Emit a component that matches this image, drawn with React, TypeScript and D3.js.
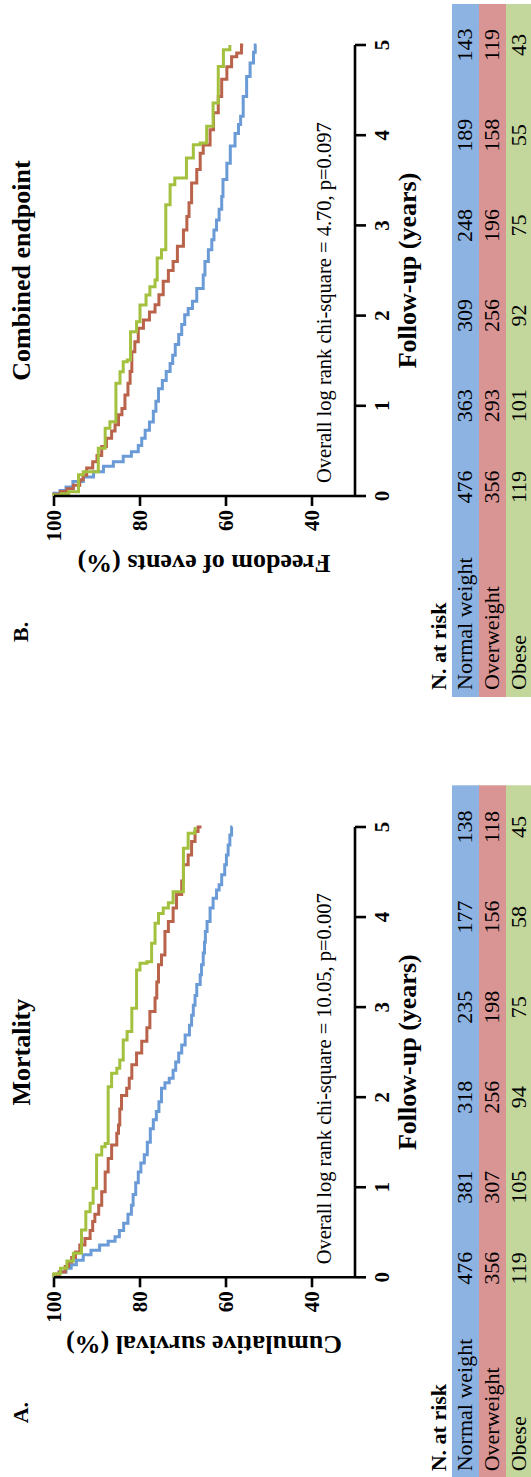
import React from 'react';
import * as d3 from 'd3';

// ---------- data ----------
const yearTicks = [0, 1, 2, 3, 4, 5];
const survivalTicks = [40, 60, 80, 100];
const groupNames = ['Normal weight', 'Overweight', 'Obese'];

// Panel A – Mortality (time in years, survival %)
const mortNormal: [number, number][] = [
  [0, 100], [0.03, 98.8], [0.06, 97.2], [0.1, 96.0], [0.14, 94.8], [0.19, 93.2], [0.25, 91.4], [0.3, 89.4],
  [0.36, 87.4], [0.4, 85.8], [0.45, 84.8], [0.52, 83.8], [0.6, 82.8], [0.7, 82.0], [0.8, 81.6], [0.92, 81.0],
  [1.05, 80.4], [1.17, 79.8], [1.27, 79.0], [1.36, 78.3], [1.5, 77.6], [1.65, 76.9], [1.75, 76.2], [1.84, 75.6],
  [1.95, 75.0], [2.1, 74.2], [2.16, 73.2], [2.21, 72.3], [2.3, 71.7], [2.39, 71.0], [2.49, 70.3], [2.58, 69.5],
  [2.69, 68.5], [2.8, 68.0], [2.91, 67.6], [3.02, 67.2], [3.13, 66.8], [3.25, 66.0], [3.36, 65.7], [3.47, 65.3],
  [3.6, 65.0], [3.72, 64.8], [3.84, 64.4], [3.95, 63.7], [4.1, 63.0], [4.21, 62.2], [4.3, 61.6], [4.36, 61.0],
  [4.47, 60.3], [4.58, 59.9], [4.69, 59.5], [4.8, 59.1], [4.91, 58.7], [5.0, 58.5],
];
const mortOver: [number, number][] = [
  [0, 100], [0.03, 98.8], [0.06, 97.4], [0.12, 96.6], [0.17, 95.9], [0.22, 95.0], [0.28, 94.0], [0.36, 92.8],
  [0.43, 91.6], [0.52, 91.0], [0.62, 90.5], [0.7, 89.6], [0.8, 88.9], [0.95, 88.1], [1.17, 87.4], [1.32, 86.6],
  [1.47, 85.4], [1.6, 85.0], [1.69, 84.7], [1.87, 84.3], [2.02, 83.1], [2.1, 82.5], [2.21, 81.9], [2.36, 80.8],
  [2.49, 79.6], [2.62, 78.4], [2.77, 77.7], [2.95, 76.5], [3.1, 76.1], [3.28, 75.7], [3.47, 75.0], [3.58, 74.2],
  [3.84, 73.4], [3.95, 72.3], [4.1, 71.5], [4.25, 70.3], [4.4, 69.9], [4.58, 68.8], [4.69, 68.0], [4.84, 67.2],
  [4.95, 66.5], [5.0, 65.7],
];
const mortObese: [number, number][] = [
  [0, 100], [0.04, 98.5], [0.1, 97.0], [0.18, 95.5], [0.266, 93.6], [0.526, 92.6], [0.729, 91.6], [0.821, 90.9],
  [0.988, 90.1], [1.358, 88.9], [1.45, 88.1], [1.487, 87.4], [2.117, 86.6], [2.265, 85.4], [2.32, 84.7],
  [2.413, 83.9], [2.635, 83.0], [2.728, 81.9], [2.987, 80.8], [3.412, 80.0], [3.486, 78.4], [3.505, 77.3],
  [3.708, 76.5], [3.93, 75.7], [4.04, 74.6], [4.1, 73.4], [4.16, 72.3], [4.28, 69.9], [4.763, 68.8],
  [4.93, 67.2], [5.0, 67.2],
];

// Panel B – Combined endpoint
const combNormal: [number, number][] = [
  [0, 100], [0.03, 98.6], [0.06, 97.2], [0.1, 95.6], [0.16, 93.2], [0.21, 90.8], [0.27, 88.5], [0.33, 86.2],
  [0.38, 83.9], [0.44, 82.0], [0.49, 80.4], [0.56, 79.6], [0.64, 78.8], [0.73, 77.8], [0.82, 76.9], [0.94, 76.3],
  [1.05, 75.7], [1.19, 74.8], [1.28, 73.9], [1.38, 73.0], [1.47, 72.4], [1.56, 71.8], [1.68, 71.0], [1.79, 70.3],
  [1.9, 69.6], [2.01, 68.8], [2.08, 67.8], [2.16, 66.8], [2.3, 65.3], [2.45, 64.9], [2.6, 64.1], [2.73, 63.3],
  [2.84, 62.8], [2.95, 62.2], [3.06, 61.6], [3.18, 61.0], [3.32, 60.7], [3.51, 59.8], [3.69, 59.0], [3.88, 57.9],
  [4.02, 57.1], [4.12, 56.6], [4.21, 56.0], [4.43, 55.2], [4.65, 54.4], [4.8, 53.6], [4.92, 53.2], [5.0, 52.9],
];
const combOver: [number, number][] = [
  [0, 100], [0.02, 98.5], [0.05, 97.0], [0.08, 95.5], [0.12, 94.0], [0.18, 93.2], [0.23, 92.4], [0.31, 91.0],
  [0.38, 90.0], [0.45, 88.9], [0.55, 87.8], [0.64, 86.6], [0.72, 85.8], [0.79, 85.0], [0.9, 84.2], [0.97, 83.5],
  [1.12, 82.8], [1.25, 82.3], [1.38, 81.9], [1.6, 81.2], [1.71, 80.4], [1.86, 79.2], [1.95, 77.8], [2.04, 76.5],
  [2.12, 75.6], [2.23, 74.6], [2.38, 73.4], [2.5, 72.3], [2.6, 71.3], [2.77, 69.9], [2.95, 69.1], [3.1, 68.6],
  [3.25, 68.0], [3.47, 66.8], [3.62, 66.0], [3.8, 65.3], [3.89, 63.7], [4.06, 62.9], [4.25, 61.8], [4.43, 61.0],
  [4.62, 59.8], [4.76, 58.7], [4.87, 57.5], [4.91, 56.4], [5.0, 56.0],
];
const combObese: [number, number][] = [
  [0, 100], [0.01, 98.3], [0.025, 96.6], [0.047, 94.3], [0.235, 93.2], [0.27, 89.7], [0.528, 88.1], [0.75, 87.0],
  [0.824, 85.6], [1.249, 84.65], [1.378, 83.9], [1.489, 82.95], [1.508, 82.2], [1.82, 80.8], [1.933, 80.0],
  [2.117, 78.6], [2.228, 77.7], [2.32, 76.5], [2.394, 76.0], [2.638, 75.0], [2.731, 74.0], [3.229, 73.0],
  [3.451, 71.9], [3.525, 69.2], [3.747, 67.6], [3.895, 66.0], [3.913, 64.5], [4.098, 63.0], [4.357, 61.8],
  [4.763, 60.6], [4.948, 59.1], [5.0, 59.1],
];

// numbers at risk
const mortRiskNormal = [476, 381, 318, 235, 177, 138];
const mortRiskOver = [356, 307, 256, 198, 156, 118];
const mortRiskObese = [119, 105, 94, 75, 58, 45];
const combRiskNormal = [476, 363, 309, 248, 189, 143];
const combRiskOver = [356, 293, 256, 196, 158, 119];
const combRiskObese = [119, 101, 92, 75, 55, 43];

// ---------- styles ----------
const lineColors = ['#6a9bd6', '#b9634b', '#a3c13f'];
const bandColors = ['#8db3e2', '#d99594', '#c3d69b'];
const FONT = "'Liberation Serif', 'Times New Roman', serif";

const OW = 1477; // original (unrotated) width
const OH = 531;

const yScale = d3.scaleLinear().domain([30, 100]).range([355, 54]);

type PanelProps = {
  x0: number;
  x1: number;
  letter: string;
  title: string;
  yLabel: string;
  stat: string;
  series: [number, number][][];
  risk: number[][];
};

function Panel({ x0, x1, letter, title, yLabel, stat, series, risk }: PanelProps) {
  const xScale = d3.scaleLinear().domain([0, 5]).range([x0, x1]);
  const line = d3
    .line<[number, number]>()
    .x((d) => xScale(d[0]))
    .y((d) => yScale(d[1]))
    .curve(d3.curveStepAfter);
  const cx = (x0 + x1) / 2;
  const axisY = yScale(30);
  const bandX0 = x0 - 201;
  const bandX1 = x0 + 492;
  const textX = x0 - 194;
  const rowTop = 452;
  const rowH = 27;
  return (
    <g fontFamily={FONT}>
      <text x={x0 - 146} y={28} fontSize={22} fontWeight="bold">{letter}</text>
      <text x={cx} y={30} fontSize={26} fontWeight="bold" textAnchor="middle">{title}</text>
      {series.map((s, i) => (
        <path key={i} d={line(s) || ''} fill="none" stroke={lineColors[i]} strokeWidth={3} />
      ))}
      {/* axes */}
      <line x1={x0} x2={x0} y1={yScale(100)} y2={axisY} stroke="#000" strokeWidth={2.6} />
      <line x1={x0} x2={x1} y1={axisY} y2={axisY} stroke="#000" strokeWidth={2.6} />
      {survivalTicks.map((v) => (
        <g key={v}>
          <line x1={x0 - 10} x2={x0} y1={yScale(v)} y2={yScale(v)} stroke="#000" strokeWidth={2.6} />
          <text x={x0 - 14} y={yScale(v)} dy="0.35em" fontSize={21} fontWeight="bold" textAnchor="end">{v}</text>
        </g>
      ))}
      {yearTicks.map((t) => (
        <g key={t}>
          <line x1={xScale(t)} x2={xScale(t)} y1={axisY} y2={axisY + 11} stroke="#000" strokeWidth={2.6} />
          <text x={xScale(t)} y={389} fontSize={21} fontWeight="bold" textAnchor="middle">{t}</text>
        </g>
      ))}
      <text transform={`translate(${x0 - 59},204) rotate(-90)`} fontSize={26} fontWeight="bold" textAnchor="middle">{yLabel}</text>
      <text x={cx} y={416} fontSize={26} fontWeight="bold" textAnchor="middle">Follow-up (years)</text>
      <text x={x0 + 13} y={331} fontSize={20.5}>{stat}</text>
      {/* at-risk table */}
      <text x={textX} y={446} fontSize={22} fontWeight="bold">N. at risk</text>
      {groupNames.map((g, i) => (
        <g key={g}>
          <rect x={bandX0} y={rowTop + i * rowH} width={bandX1 - bandX0} height={i === 2 ? rowH + 10 : rowH + 0.5} fill={bandColors[i]} />
          <text x={textX} y={rowTop + i * rowH + rowH / 2} dy="0.3em" fontSize={22}>{g}</text>
          {risk[i].map((n, j) => (
            <text key={j} x={xScale(yearTicks[j]) + (j === 0 ? 9 : 0)} y={rowTop + i * rowH + rowH / 2} dy="0.3em" fontSize={22} textAnchor="middle">{n}</text>
          ))}
        </g>
      ))}
    </g>
  );
}

export default function App() {
  return (
    <svg width={OH} height={OW} style={{ position: 'absolute', left: 0, top: 0, background: '#fff' }}>
      <rect x={0} y={0} width={OH} height={OW} fill="#fff" />
      <g transform={`translate(0,${OW}) rotate(-90)`}>
        <Panel
          x0={199.7}
          x1={650}
          letter="A."
          title="Mortality"
          yLabel="Cumulative survival (%)"
          stat="Overall log rank chi-square = 10.05, p=0.007"
          series={[mortNormal, mortOver, mortObese]}
          risk={[mortRiskNormal, mortRiskOver, mortRiskObese]}
        />
        <Panel
          x0={981}
          x1={1432}
          letter="B."
          title="Combined endpoint"
          yLabel="Freedom of events (%)"
          stat="Overall log rank chi-square = 4.70, p=0.097"
          series={[combNormal, combOver, combObese]}
          risk={[combRiskNormal, combRiskOver, combRiskObese]}
        />
      </g>
    </svg>
  );
}
